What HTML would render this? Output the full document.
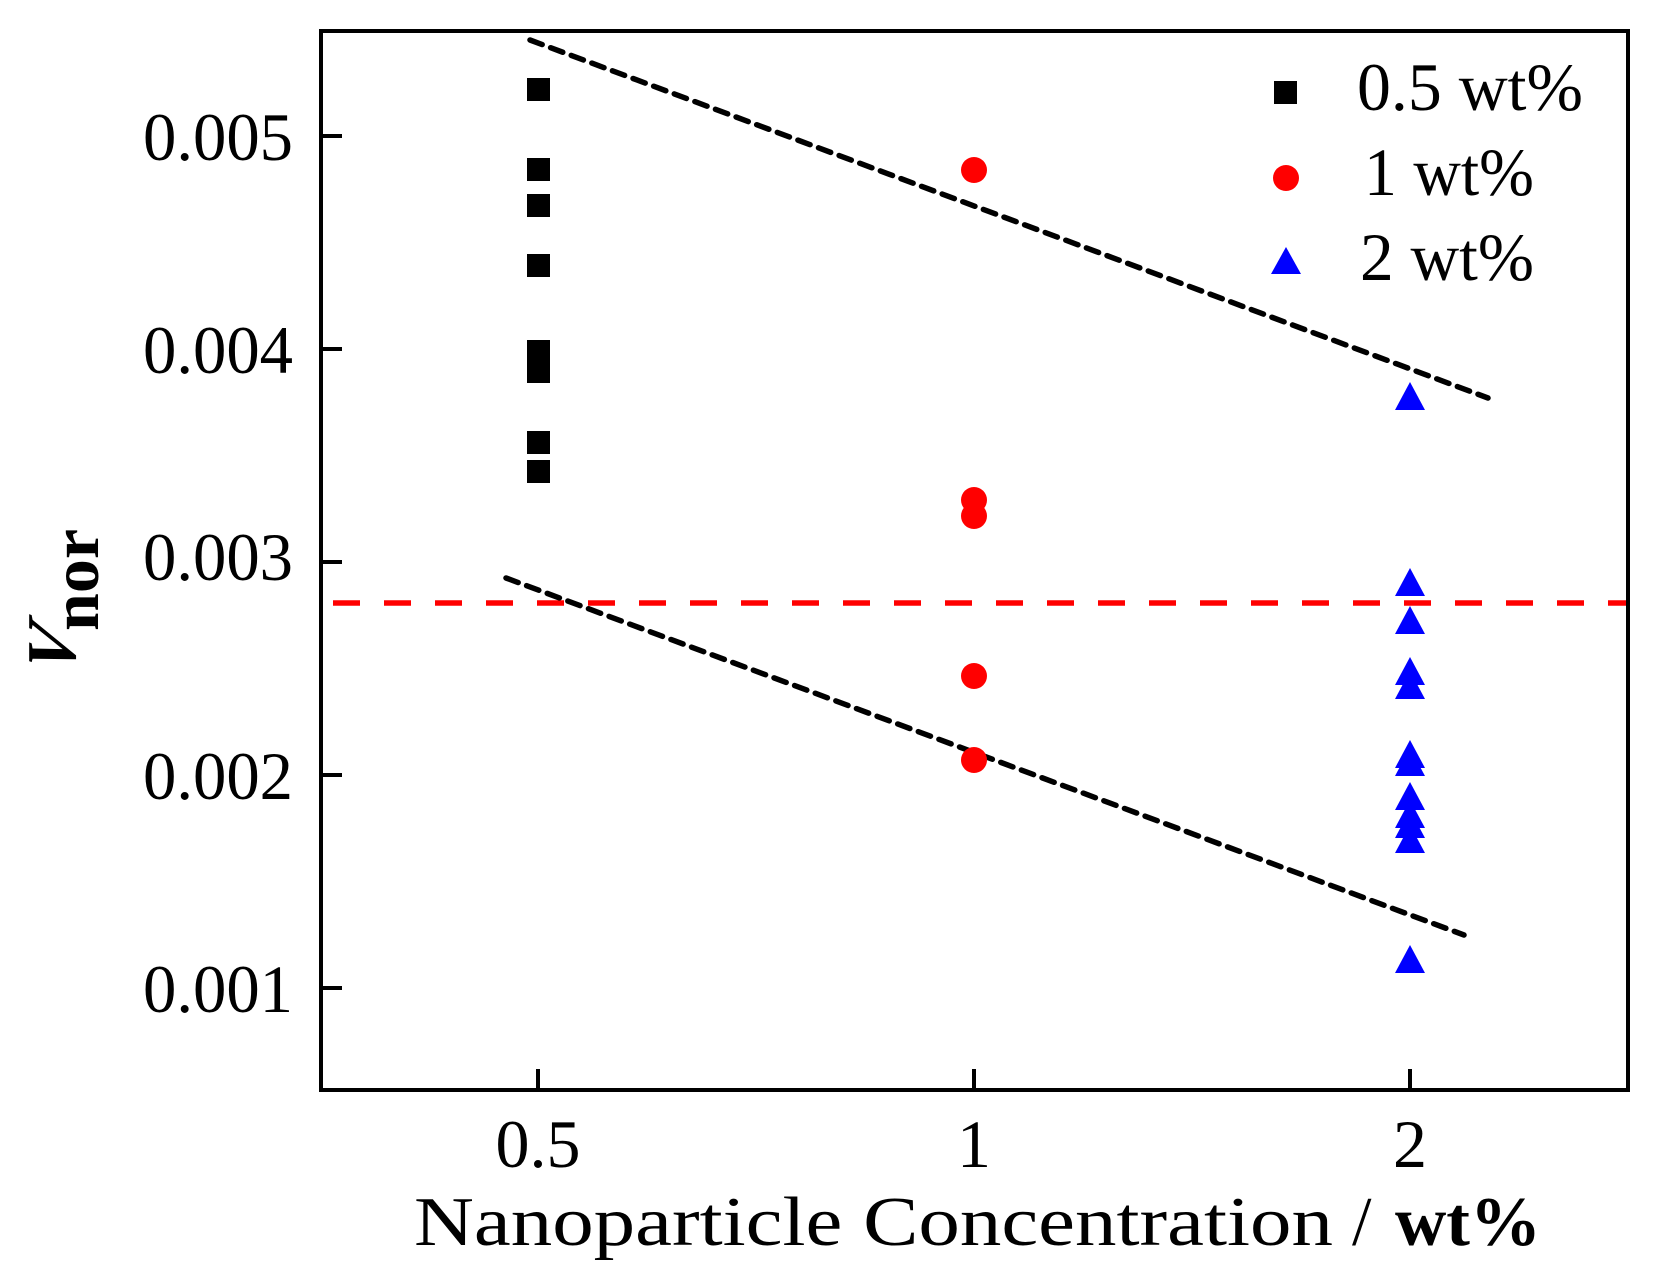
<!DOCTYPE html>
<html><head><meta charset="utf-8"><style>html,body{margin:0;padding:0;background:#fff}svg{display:block}</style></head>
<body>
<svg width="1664" height="1274" viewBox="0 0 1664 1274" xmlns="http://www.w3.org/2000/svg">
<rect width="1664" height="1274" fill="#fff"/>
<rect x="321" y="31" width="1307" height="1059" fill="none" stroke="#000" stroke-width="4"/>
<g stroke="#000" stroke-width="4">
<line x1="321" y1="136" x2="342" y2="136"/>
<line x1="321" y1="349" x2="342" y2="349"/>
<line x1="321" y1="562" x2="342" y2="562"/>
<line x1="321" y1="775" x2="342" y2="775"/>
<line x1="321" y1="988" x2="342" y2="988"/>
<line x1="538" y1="1090" x2="538" y2="1069"/>
<line x1="974" y1="1090" x2="974" y2="1069"/>
<line x1="1410" y1="1090" x2="1410" y2="1069"/>
</g>
<g font-family="Liberation Serif, serif" font-size="68" fill="#000" text-anchor="end">
<text x="293" y="160" textLength="150" lengthAdjust="spacingAndGlyphs">0.005</text>
<text x="293" y="373" textLength="150" lengthAdjust="spacingAndGlyphs">0.004</text>
<text x="293" y="580" textLength="150" lengthAdjust="spacingAndGlyphs">0.003</text>
<text x="293" y="799" textLength="150" lengthAdjust="spacingAndGlyphs">0.002</text>
<text x="293" y="1012" textLength="150" lengthAdjust="spacingAndGlyphs">0.001</text>
</g>
<g font-family="Liberation Serif, serif" font-size="68" fill="#000" text-anchor="middle">
<text x="538" y="1167">0.5</text>
<text x="974" y="1167">1</text>
<text x="1410" y="1167">2</text>
</g>
<text x="414" y="1245" font-family="Liberation Serif, serif" font-size="70" textLength="919" lengthAdjust="spacingAndGlyphs">Nanoparticle Concentration</text>
<text x="1352" y="1245" font-family="Liberation Serif, serif" font-size="70">/</text>
<text x="1395" y="1245" font-family="Liberation Serif, serif" font-size="70" font-weight="bold" textLength="146" lengthAdjust="spacingAndGlyphs">wt%</text>
<g transform="translate(75,677) rotate(-90)">
<text x="0" y="0" transform="skewX(-14)" font-family="Liberation Serif, serif" font-size="70" font-weight="bold" font-style="italic">V</text>
<text x="46" y="23" font-family="Liberation Serif, serif" font-size="68" font-weight="bold">nor</text>
</g>
<line x1="323" y1="603" x2="1626" y2="603" stroke="#f00" stroke-width="5.5" stroke-dasharray="27 24" stroke-dashoffset="-10"/>
<line x1="530" y1="40" x2="1488" y2="398" stroke="#000" stroke-width="5.5" stroke-dasharray="13 9" stroke-linecap="round"/>
<line x1="506" y1="578" x2="1464" y2="935" stroke="#000" stroke-width="5.5" stroke-dasharray="13 9" stroke-linecap="round"/>
<g fill="#000">
<rect x="527" y="78" width="23" height="23"/>
<rect x="527" y="158" width="23" height="23"/>
<rect x="527" y="194" width="23" height="23"/>
<rect x="527" y="254" width="23" height="23"/>
<rect x="527" y="340" width="23" height="23"/>
<rect x="527" y="350" width="23" height="23"/>
<rect x="527" y="360" width="23" height="23"/>
<rect x="527" y="431" width="23" height="23"/>
<rect x="527" y="460" width="23" height="23"/>
</g>
<g fill="#f00">
<circle cx="974" cy="170" r="13"/>
<circle cx="974" cy="500" r="13"/>
<circle cx="974" cy="516" r="13"/>
<circle cx="974" cy="676" r="13"/>
<circle cx="974" cy="760" r="13"/>
</g>
<g fill="#00f">
<polygon points="1410,382 1425,410 1395,410"/>
<polygon points="1410,568 1425,596 1395,596"/>
<polygon points="1410,606 1425,634 1395,634"/>
<polygon points="1410,657 1425,685 1395,685"/>
<polygon points="1410,671 1425,699 1395,699"/>
<polygon points="1410,740 1425,768 1395,768"/>
<polygon points="1410,748 1425,776 1395,776"/>
<polygon points="1410,782 1425,810 1395,810"/>
<polygon points="1410,800 1425,828 1395,828"/>
<polygon points="1410,810 1425,838 1395,838"/>
<polygon points="1410,825 1425,853 1395,853"/>
<polygon points="1410,945 1425,973 1395,973"/>
</g>
<rect x="1274" y="81" width="23" height="23" fill="#000"/>
<circle cx="1286" cy="178" r="13" fill="#f00"/>
<polygon points="1286,247 1301,274 1271,274" fill="#00f"/>
<g font-family="Liberation Serif, serif" font-size="68" fill="#000">
<text x="1357" y="110" textLength="226" lengthAdjust="spacingAndGlyphs">0.5 wt%</text>
<text x="1364" y="195" textLength="170" lengthAdjust="spacingAndGlyphs">1 wt%</text>
<text x="1360" y="280" textLength="174" lengthAdjust="spacingAndGlyphs">2 wt%</text>
</g>
</svg>
</body></html>
